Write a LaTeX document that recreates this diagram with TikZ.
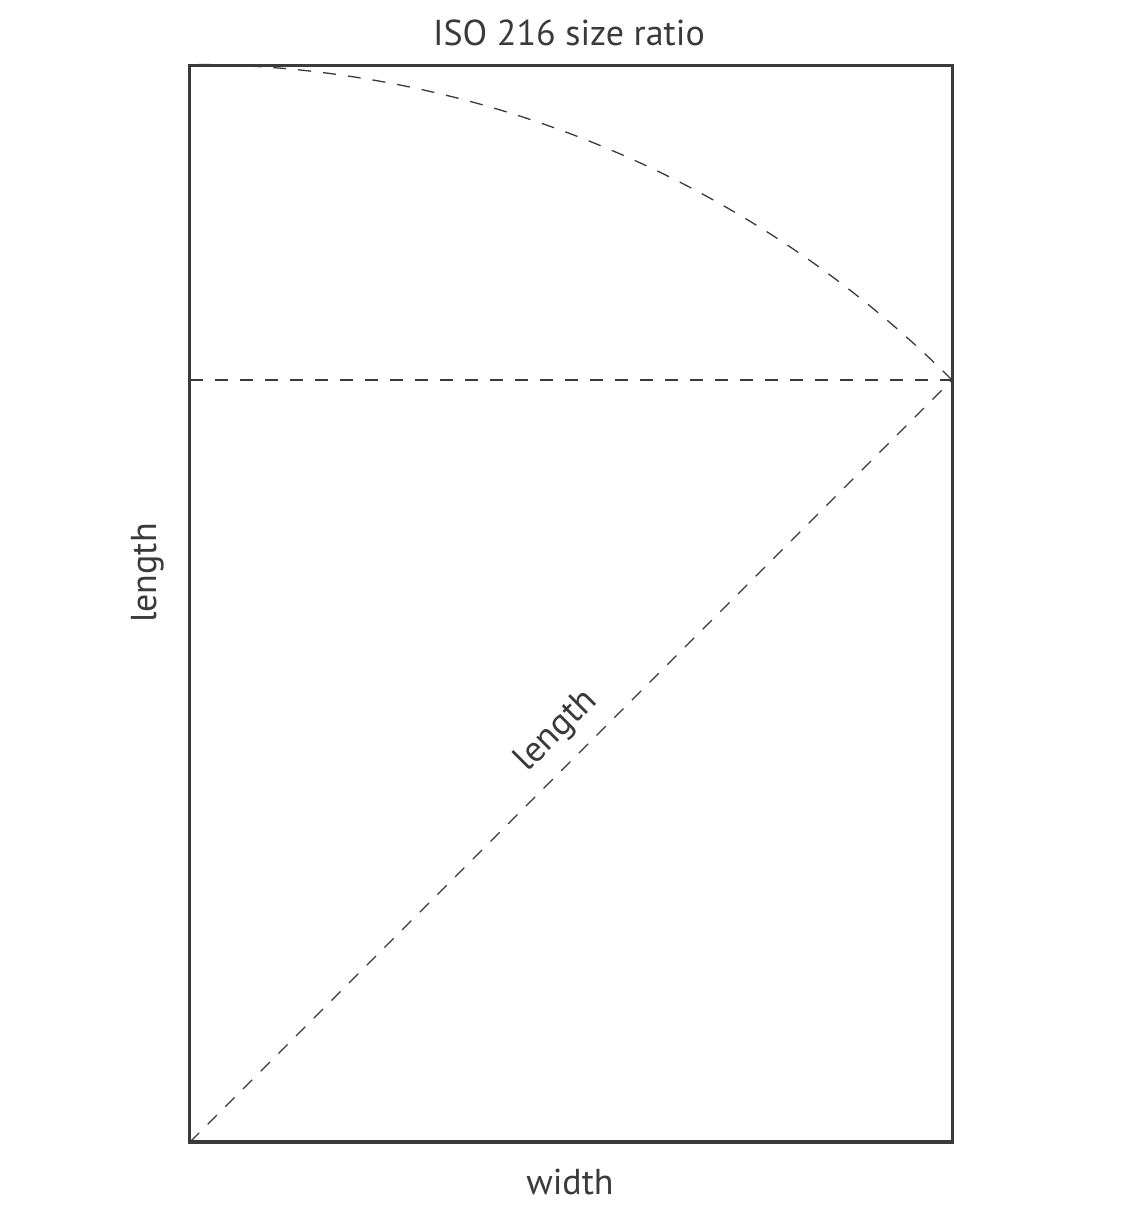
\documentclass[tikz,border=0pt]{standalone}
\usepackage{fontspec}
\setmainfont{PT Sans}
\usetikzlibrary{positioning}
\usetikzlibrary{calc}
\definecolor{ink}{HTML}{3A3A3A}
\tikzset{lbl/.style={inner sep=0pt,font=\fontsize{18}{22}\selectfont,text=ink}}
\tikzset{guide/.style={draw=ink,line width=0.65pt,dash pattern=on 6.5pt off 6pt}}
\tikzset{sheet/.style={draw=ink,line width=1.5pt}}

\begin{document}
\begin{tikzpicture}[x=0.5pt,y=0.5pt]
\useasboundingbox (-190,-68) rectangle (956,1142);
\coordinate (bl) at (0, 0);
\coordinate (tr) at (762, 1076);
\coordinate (ml) at (0, 762);
\coordinate (mr) at (762, 762);

\draw[sheet] (bl) rectangle (tr);

\node[lbl] (title) at (379, 1109) {ISO 216 size ratio};
\node[lbl] (width) at (380, -40) {width};
\node[lbl, rotate=90] (side) at (-42, 569) {length};

\draw[guide] (ml) -- (mr);
\draw[guide] (bl) -- (mr)
 node[lbl, pos=0.51, above=7pt, sloped] (diag) {length};
\draw[guide] (mr) arc[start angle=45, end angle=90, radius=1077.6];
\end{tikzpicture}
\end{document}
